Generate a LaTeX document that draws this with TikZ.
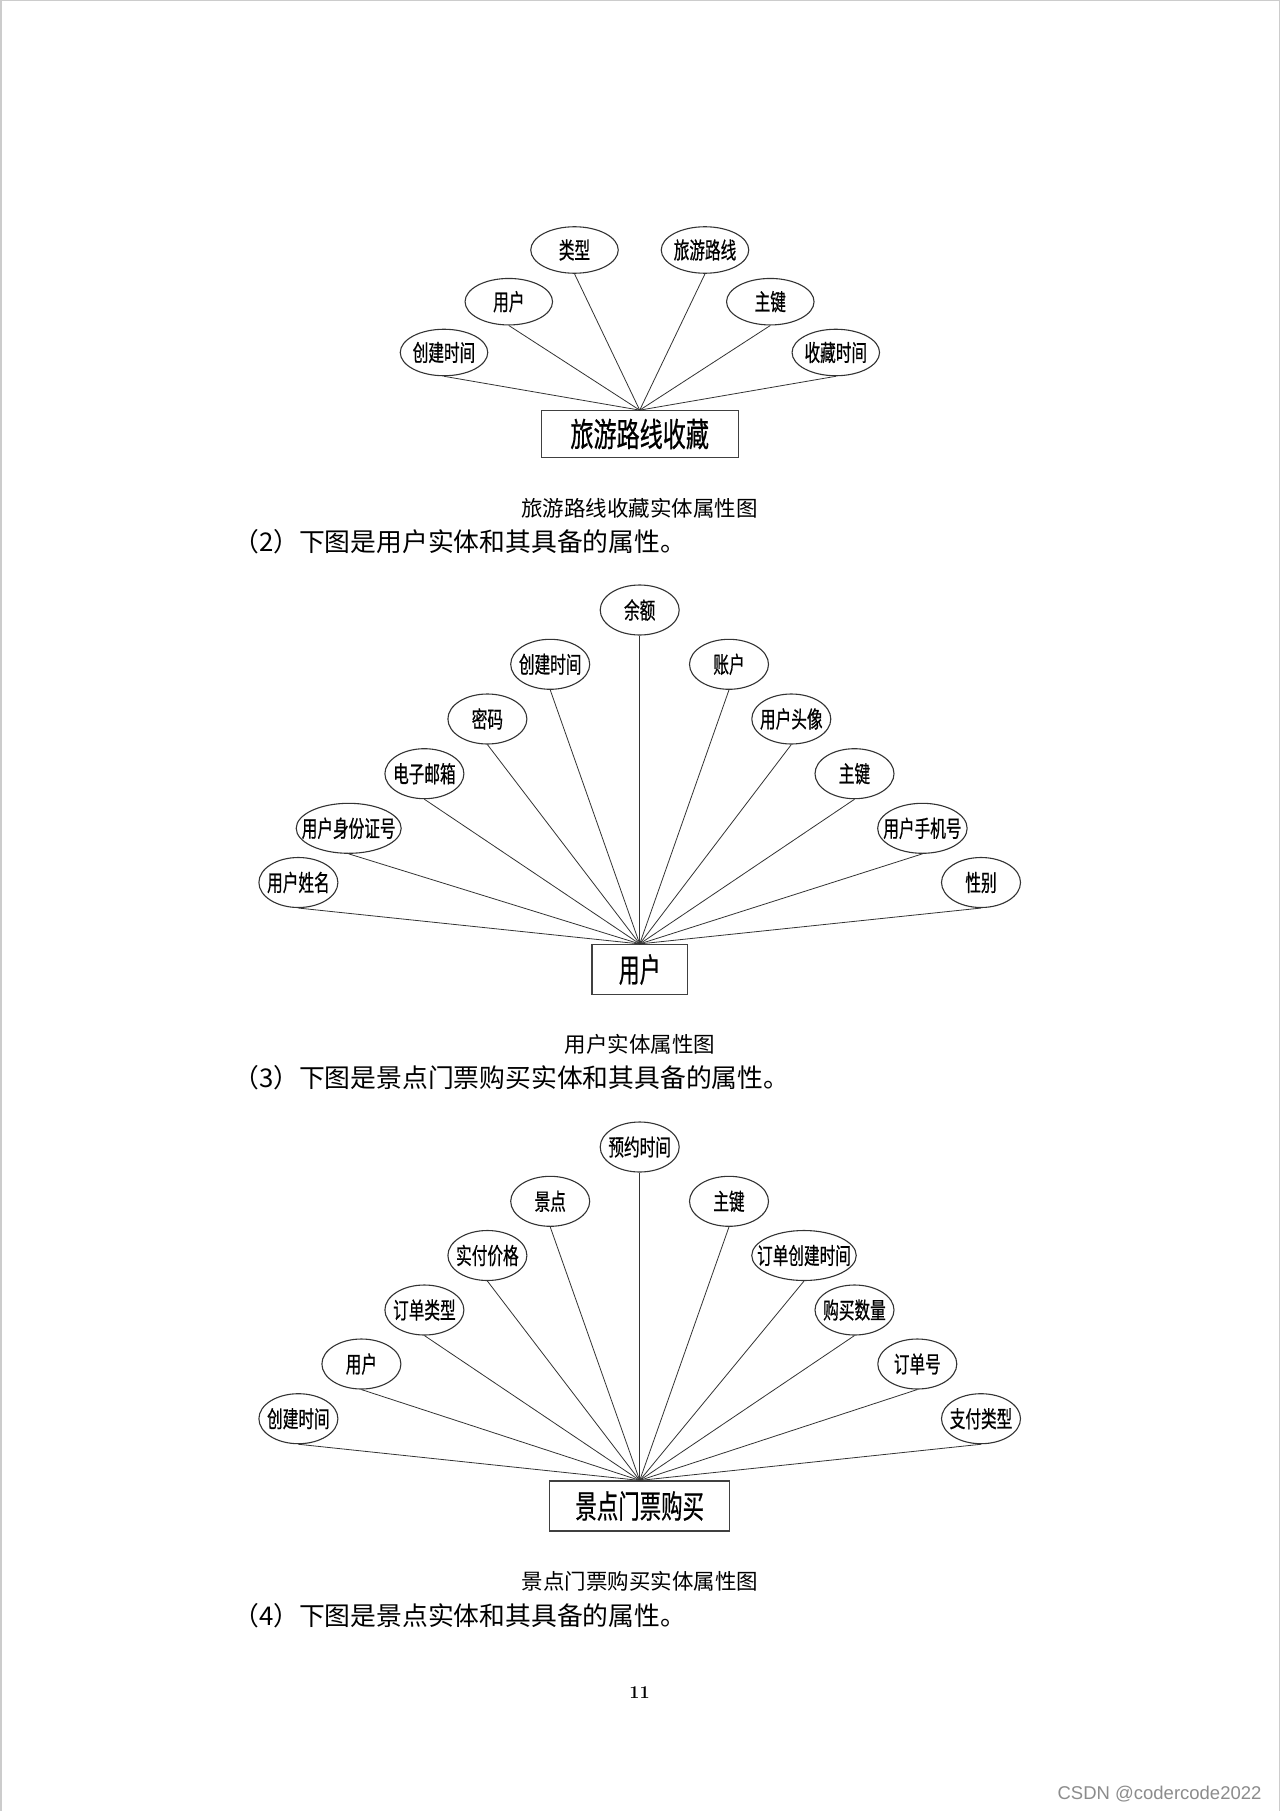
\documentclass[tikz,border=0pt]{standalone}
\usepackage{fontspec}
\usetikzlibrary{shapes.geometric}
\newfontfamily\cjk{Noto Sans CJK SC}
\newfontfamily\cjkn[FakeStretch=0.68,FakeBold=0.6]{Noto Sans CJK SC}
\newfontfamily\cjkba[FakeStretch=0.70,FakeBold=0.6]{Noto Sans CJK SC}
\newfontfamily\cjkbb[FakeStretch=0.63,FakeBold=0.6]{Noto Sans CJK SC}
\newfontfamily\cjkbc[FakeStretch=0.67,FakeBold=0.6]{Noto Sans CJK SC}
\newfontfamily\wmfont{Liberation Sans}
\tikzset{
  attr/.style={ellipse, draw=black!80, line width=1.1pt, minimum width=79pt, minimum height=50pt, inner xsep=-12pt, inner ysep=0pt, font=\cjkn\fontsize{23}{23}\selectfont},
  attrA/.style={attr, minimum width=87.5pt, minimum height=46.5pt},
  ent/.style={rectangle, draw=black!75, line width=1.2pt, minimum height=50pt, inner sep=0pt},
  link/.style={draw=black!80, line width=0.8pt},
  figcaption/.style={font=\cjk\fontsize{21.5}{21.5}\selectfont},
  para/.style={anchor=west, inner sep=0pt, font=\cjk\fontsize{25.8}{25.8}\selectfont},
}
\begin{document}
\begin{tikzpicture}[x=1pt,y=-1pt]
\useasboundingbox (0,0) rectangle (1280,1811);
\fill[white] (0,0) rectangle (1280,1811);
\draw[black!20, line width=1.5pt] (0.75,1811) -- (0.75,0.75) -- (1279.25,0.75) -- (1279.25,1811);

% ---------- Figure 1 ----------
\node[ent, minimum width=197pt, minimum height=46.5pt, font=\cjkba\fontsize{33}{33}\selectfont] (e1) at (639.7,434) {旅游路线收藏};
\node[attrA] (a1t) at (574.5,250) {类型};
\node[attrA] (a1r) at (705,250) {旅游路线};
\node[attrA] (a1u) at (508.8,301.7) {用户};
\node[attrA] (a1k) at (770.3,301.7) {主键};
\node[attrA] (a1c) at (444,352.5) {创建时间};
\node[attrA] (a1s) at (835.8,352.5) {收藏时间};
\foreach \n in {a1t,a1r,a1u,a1k,a1c,a1s} \draw[link] (\n.south) -- (e1.north);
\node[figcaption] (c1) at (639.5,508) {旅游路线收藏实体属性图};
\node[para] (p2) at (233,542) {（2）下图是用户实体和其具备的属性。};

% ---------- Figure 2 ----------
\node[ent, minimum width=95.5pt, font=\cjkbb\fontsize{33}{33}\selectfont] (e2) at (639.7,969.5) {用户};
\node[attr] (b1) at (639.7,610) {余额};
\node[attr] (b2) at (550.2,664.3) {创建时间};
\node[attr] (b3) at (729,664.3) {账户};
\node[attr] (b4) at (487.4,719) {密码};
\node[attr] (b5) at (791.3,719) {用户头像};
\node[attr] (b6) at (424.4,773.7) {电子邮箱};
\node[attr] (b7) at (854.5,773.7) {主键};
\node[attr, minimum width=105pt] (b8) at (348.7,828.3) {用户身份证号};
\node[attr, minimum width=89.5pt] (b9) at (922.4,828.3) {用户手机号};
\node[attr] (b10) at (298.4,882.5) {用户姓名};
\node[attr] (b11) at (981,882.5) {性别};
\foreach \n in {b1,b2,b3,b4,b5,b6,b7,b8,b9,b10,b11} \draw[link] (\n.south) -- (e2.north);
\node[figcaption] (c2) at (640,1044) {用户实体属性图};
\node[para] (p3) at (233,1078) {（3）下图是景点门票购买实体和其具备的属性。};

% ---------- Figure 3 ----------
\node[ent, minimum width=180pt, font=\cjkbc\fontsize{32}{32}\selectfont] (e3) at (639.7,1506) {景点门票购买};
\node[attr] (d1) at (639.7,1147) {预约时间};
\node[attr] (d2) at (550.2,1201.3) {景点};
\node[attr] (d3) at (729,1201.3) {主键};
\node[attr] (d4) at (487.4,1255.5) {实付价格};
\node[attr, minimum width=104.5pt] (d5) at (804,1255.5) {订单创建时间};
\node[attr] (d6) at (424.4,1310) {订单类型};
\node[attr] (d7) at (854.5,1310) {购买数量};
\node[attr] (d8) at (361.4,1364) {用户};
\node[attr] (d9) at (917.3,1364) {订单号};
\node[attr] (d10) at (298.4,1418.7) {创建时间};
\node[attr] (d11) at (981,1418.7) {支付类型};
\foreach \n in {d1,d2,d3,d4,d5,d6,d7,d8,d9,d10,d11} \draw[link] (\n.south) -- (e3.north);
\node[figcaption] (c3) at (640,1581) {景点门票购买实体属性图};
\node[para] (p4) at (233,1616) {（4）下图是景点实体和其具备的属性。};

% ---------- footer ----------
\node[font=\bfseries\fontsize{18}{18}\selectfont] (pg) at (639.6,1693) {11};
\node[anchor=east, text=black!45, font=\wmfont\fontsize{18.5}{18.5}\selectfont] (wm) at (1265,1794) {CSDN @codercode2022};
\end{tikzpicture}
\end{document}
